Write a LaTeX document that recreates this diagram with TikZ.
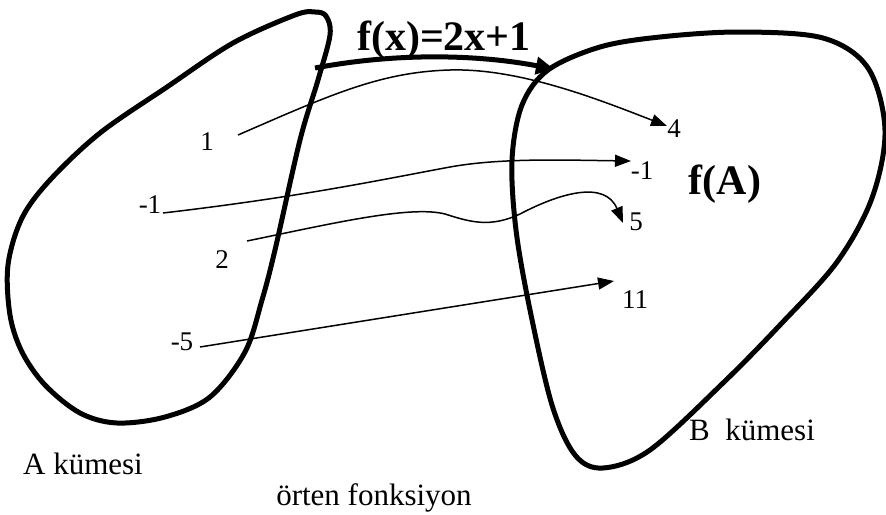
\documentclass[tikz,border=0pt]{standalone}
\usepackage{fontspec}
\setmainfont{Liberation Serif}
\usetikzlibrary{arrows.meta}
\tikzset{
  blob/.style={line width=5pt, line join=round},
  num/.style={font=\fontsize{27}{30}\selectfont, inner sep=0pt, anchor=base},
  lbl/.style={font=\fontsize{31}{34}\selectfont, inner sep=0pt, anchor=base},
  big/.style={font=\fontsize{42}{46}\selectfont\bfseries, inner sep=0pt, anchor=base},
  thin/.style={line width=1.5pt, -{Triangle[length=16pt,width=12pt]}},
  thick/.style={line width=5pt, -{Triangle[length=18pt,width=17pt]}}
}
\begin{document}
\begin{tikzpicture}[x=1pt,y=-1pt]
\useasboundingbox (0,0) rectangle (886,514);
% set A
\draw[blob] plot[smooth cycle, tension=0.55] coordinates {
 (315,12) (295,15) (233,43) (167,87) (100,133) (50,180) (22,218) (8,265) (10,315) (22,352) (45,385) (80,413) (117,423) (165,417) (210,397) (245,352) (262,300) (275,250) (300,140) (318,80) (330,35) (326,16)};
% set B
\draw[blob] plot[smooth cycle, tension=0.55] coordinates {
 (548,70) (600,47) (660,37) (740,32) (823,38) (868,68) (885,130) (872,198) (837,262) (780,325) (723,383) (650,450) (603,468) (575,455) (552,405) (530,310) (516,230) (512,160) (522,105)};
% labels
\node[num] (n1) at (207,150) {1};
\node[num] (nm1) at (150,213) {-1};
\node[num] (n2) at (222,268) {2};
\node[num] (nm5) at (182,350) {-5};
\node[num] (n4) at (674,137) {4};
\node[num] (nmb) at (642,179) {-1};
\node[num] (n5) at (636,230) {5};
\node[num] (n11) at (635,308) {11};
\node[big] (fA) at (725,194) {f(A)};
\node[big] (fx) at (444,50) {f(x)=2x+1};
\node[lbl] (A) at (83,474) {A kümesi};
\node[lbl] (B) at (752,440) {B\ \ kümesi};
\node[lbl] (ort) at (374,505) {örten fonksiyon};
% arrow end points
\coordinate (s1) at (238,135);
\coordinate (e1) at (667,126);
\coordinate (s2) at (163,213);
\coordinate (e2) at (631,161);
\coordinate (s3) at (247,241);
\coordinate (e3) at (623,223);
\coordinate (s4) at (200,347);
\coordinate (e4) at (614,281);
\coordinate (sf) at (315,68);
\coordinate (ef) at (554,69);
% arrows
\draw[thick] (sf) .. controls (400,52) and (480,55) .. (ef);
\draw[thin] (s1) .. controls (330,95) and (380,72) .. (450,70) .. controls (520,68) and (600,100) .. (e1);
\draw[thin] (s2) .. controls (300,197) and (380,180) .. (450,167) .. controls (500,158) and (560,160) .. (e2);
\draw[thin] (s3) .. controls (330,224) and (410,205) .. (445,214) .. controls (470,222) and (490,228) .. (520,214) .. controls (560,193) and (605,180) .. (e3);
\draw[thin] (s4) -- (e4);
\end{tikzpicture}
\end{document}
